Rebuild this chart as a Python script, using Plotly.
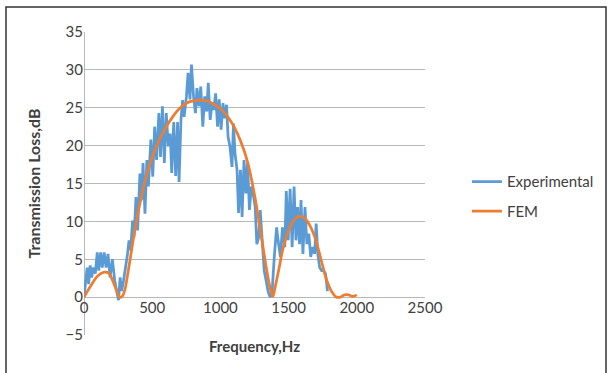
import plotly.graph_objects as go

exp_freq = [0,23,34,45,57,68,83,97,108,122,
            134,148,162,176,191,208,225,239,253,265,
            276,290,305,319,330,342,356,367,381,393,
            410,421,433,447,461,472,490,504,518,532,
            549,561,575,589,603,618,632,643,658,672,
            686,697,711,723,734,751,763,777,788,803,
            817,828,843,856,871,885,900,911,925,939,
            951,965,979,991,1005,1019,1030,1045,1056,1070,
            1085,1096,1107,1122,1133,1147,1159,1173,1187,1199,
            1213,1227,1244,1255,1267,1281,1292,1307,1321,1335,
            1349,1364,1378,1395,1412,1423,1440,1455,1472,1483,
            1497,1511,1526,1540,1554,1566,1580,1591,1605,1620,
            1634,1648,1662,1677,1691,1702,1714,1728,1742,1756,
            1771,1785]
exp_tl = [0,3.9,1.7,4.2,2.6,3.9,3.1,5.9,3.5,5.9,
          3.9,5.9,3.9,5.7,2.6,5.0,2.2,0.8,-0.4,2.6,
          0.8,2.2,3.9,5.7,7.5,6.2,10.1,7.9,13.2,8.8,
          16.3,12.8,17.7,11.0,18.1,14.6,20.8,15.9,22.5,18.1,
          24.3,18.5,25.2,17.7,24.3,19.9,21.6,16.4,23.1,16.0,
          23.1,15.2,23.5,26.0,23.8,26.5,29.6,26.1,30.7,26.5,
          24.3,27.6,25.2,27.8,22.5,26.5,24.5,28.3,23.4,25.6,
          24.7,26.9,22.5,26.1,22.1,25.6,23.6,25.4,21.2,19.9,
          17.2,22.9,19.0,16.8,11.1,16.8,10.6,18.1,13.7,17.7,
          11.5,14.6,13.2,11.9,7.0,7.9,11.5,7.5,3.5,2.2,
          0.8,0.0,0.4,5.3,9.2,7.5,5.3,9.2,6.6,14.0,
          7.5,14.3,6.6,14.6,7.5,11.9,7.0,12.8,5.7,11.9,
          7.0,8.4,5.3,6.6,5.7,9.7,5.7,3.9,3.5,3.5,
          3.1,0.8]

# FEM data
fem_freq = [0,50,100,150,180,210,240,260,280,300,320,340,360,380,400,450,500,550,600,650,
            700,750,800,850,900,950,1000,1050,1100,1150,1200,1250,1300,1340,1370,1385,1400,1430,1460,1500,
            1540,1580,1620,1660,1700,1740,1780,1820,1850,1880,1910,1940,1970,2000]
fem_tl = [0,1.5,2.8,3.3,3.2,2.2,0.8,0.0,0.1,1.0,3.0,5.2,7.5,9.6,11.5,15.5,18.5,20.7,22.4,23.8,
          24.9,25.6,25.9,26.0,25.9,25.5,24.9,23.9,22.5,20.5,17.8,13.5,8.0,3.5,0.8,0.1,1.2,3.8,6.5,8.8,
          10.2,10.7,10.4,9.3,7.5,4.8,2.2,0.6,0.0,0.0,0.3,0.3,0.1,0.3]

x_ticks = [0, 500, 1000, 1500, 2000, 2500]
y_ticks = [-5, 0, 5, 10, 15, 20, 25, 30, 35]

FONT = "Lato"
W, H = 609, 373
L, R, T, B = 84, 425, 32, 335

fig = go.Figure()
fig.add_trace(go.Scatter(x=exp_freq, y=exp_tl, mode="lines", name="Experimental",
                         legendgroup="a",
                         line=dict(color="#5B9BD5", width=2.75)))
fig.add_trace(go.Scatter(x=fem_freq, y=fem_tl, mode="lines", name="FEM",
                         legendgroup="b",
                         line=dict(color="#ED7D31", width=2.75, shape="spline")))

fig.update_layout(
    width=W, height=H,
    margin=dict(l=L, r=W - R, t=T, b=H - B, autoexpand=False),
    paper_bgcolor="white", plot_bgcolor="white",
    font=dict(family=FONT, size=15, color="#404040"),
    showlegend=True,
    legend=dict(x=1.123, y=0.56, xanchor="left", yanchor="top",
                font=dict(family=FONT, size=15, color="#404040"),
                traceorder="grouped", tracegroupgap=7,
                bgcolor="rgba(0,0,0,0)"),
    xaxis=dict(range=[0, 2500], tickvals=x_ticks, showgrid=False,
               zeroline=True, zerolinecolor="#b8b8b8", zerolinewidth=1,
               anchor="free", position=5 / 40, automargin=False,
               showline=False, ticks="",
               title=dict(text="<b>Frequency,Hz</b>", font=dict(size=15, color="#404040"), standoff=26)),
    yaxis=dict(range=[-5, 35], tickvals=y_ticks, showgrid=True, gridcolor="#b8b8b8", gridwidth=1,
               zeroline=True, zerolinecolor="#b8b8b8", zerolinewidth=1, automargin=False,
               showline=False, ticks="",
               title=dict(text="<b>Transmission Loss,dB</b>", font=dict(size=16, color="#404040"), standoff=20)),
    shapes=[dict(type="rect", xref="paper", yref="paper",
                 x0=(6 - L) / (R - L), x1=(606 - L) / (R - L),
                 y0=(B - 385) / (B - T), y1=(B - 7) / (B - T),
                 line=dict(color="#333333", width=1.5), fillcolor="rgba(0,0,0,0)", layer="below")],
)

fig.write_html("out.html", config={"displayModeBar": False},
               post_script="document.body.style.margin='0px';")
